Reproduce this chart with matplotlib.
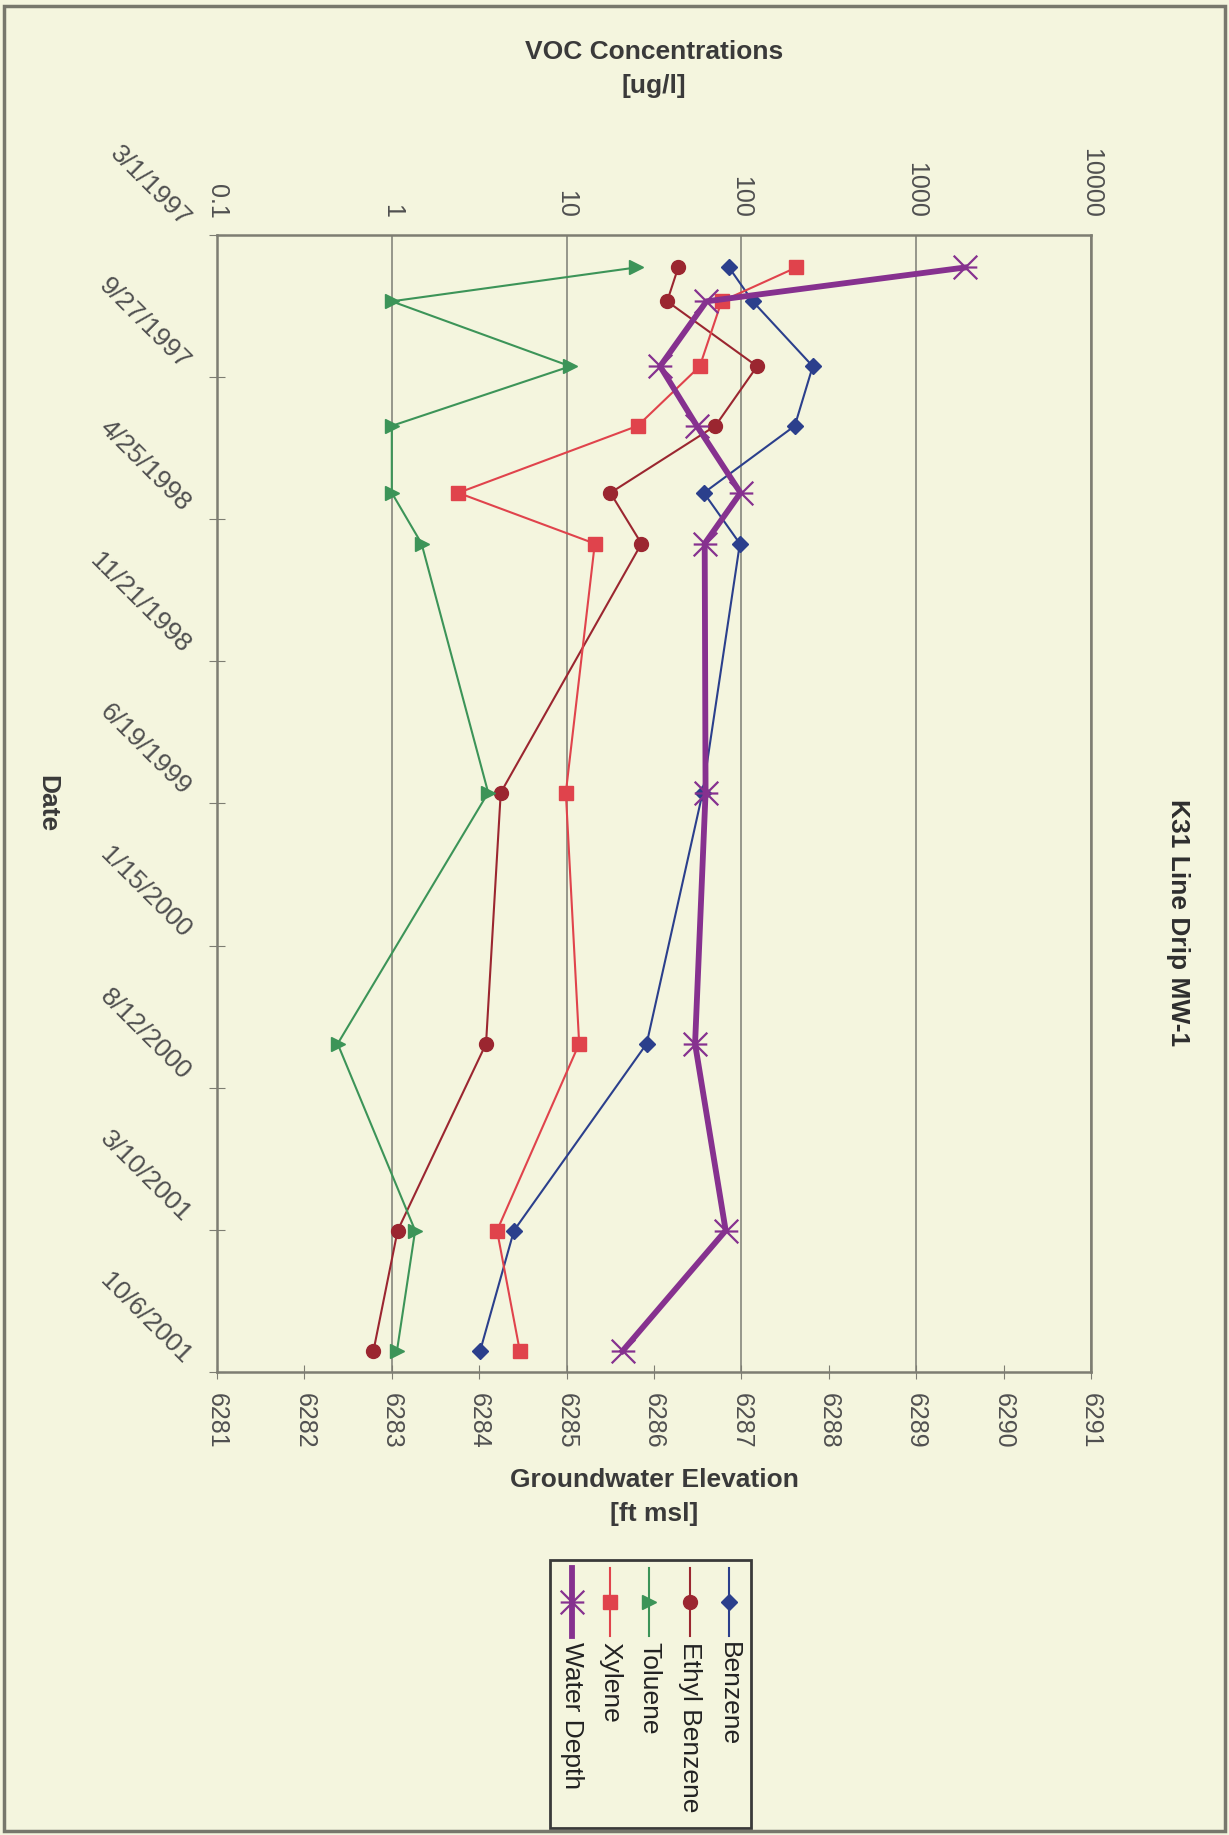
import numpy as np
import pandas as pd
import matplotlib
matplotlib.use('Agg')
import matplotlib.pyplot as plt
from matplotlib.path import Path
from matplotlib.lines import Line2D
from matplotlib.patches import Rectangle
import matplotlib.transforms as mtransforms
from matplotlib.ticker import NullLocator

plt.rcParams['font.family'] = ['Liberation Sans', 'DejaVu Sans']

# sampling dates and measured values
sample_dates = ['4/18/1997', '6/7/1997', '9/11/1997', '12/8/1997', '3/17/1998',
                '5/31/1998', '6/3/1999', '6/8/2000', '3/11/2001', '9/5/2001']
benzene = [85, 116, 256, 202, 61, 98, 60, 28.7, 5.0, 3.2]
ethyl_benzene = [43.5, 37.6, 123, 71, 17.8, 26.8, 4.2, 3.46, 1.08, 0.785]
toluene = [25, 1.0, 10.5, 1.0, 1.0, 1.48, 3.56, 0.49, 1.36, 1.07]
xylene = [206, 77, 57.8, 25.5, 2.4, 14.5, 9.9, 11.8, 4.0, 5.4]
water_elev = [6289.56, 6286.60, 6286.07, 6286.49, 6286.99, 6286.58,
              6286.59, 6286.47, 6286.82, 6285.64]

date_ticks = ['3/1/1997', '9/27/1997', '4/25/1998', '11/21/1998', '6/19/1999',
              '1/15/2000', '8/12/2000', '3/10/2001', '10/6/2001']
conc_ticks = [0.1, 1, 10, 100, 1000, 10000]
conc_labels = ['0.1', '1', '10', '100', '1000', '10000']
elev_ticks = list(range(6281, 6292))

dates = pd.to_datetime(sample_dates, format='%m/%d/%Y')
tick_dates = pd.to_datetime(date_ticks, format='%m/%d/%Y')

W, H = 1229, 1835
bg = '#f4f5de'
gray = '#7d7d72'
tick_col = '#505050'

def fx(px):
    return px / W

def fy(py):
    return 1 - py / H

# asterisk-like marker used for water depth
star = Path([(-1, -1), (1, 1), (-1, 1), (1, -1), (-1, 0), (1, 0)],
            [Path.MOVETO, Path.LINETO, Path.MOVETO, Path.LINETO, Path.MOVETO, Path.LINETO])

styles = {
    'Benzene': dict(color='#2b3f8c', marker='D', ms=8, lw=1.5),
    'Ethyl Benzene': dict(color='#9b2630', marker='o', ms=10, lw=1.5),
    'Toluene': dict(color='#3c9458', marker='>', ms=10, lw=1.5),
    'Xylene': dict(color='#e0434c', marker='s', ms=9.5, lw=1.5),
    'Water Depth': dict(color='#86318f', marker=star, ms=17, lw=4.2, mfc='none', mew=1.6),
}

fig = plt.figure(figsize=(W / 100, H / 100), dpi=100, facecolor=bg)
ax = fig.add_axes([fx(217), fy(1372), fx(1091) - fx(217), fy(235) - fy(1372)])
ax.set_facecolor(bg)
ax.set_xscale('log')
ax.set_xlim(0.1, 10000)
ax.set_ylim(tick_dates[-1], tick_dates[0])

ax2 = ax.twiny()
ax2.set_xlim(6281, 6291)

for name, vals in [('Benzene', benzene), ('Ethyl Benzene', ethyl_benzene),
                   ('Toluene', toluene), ('Xylene', xylene)]:
    ax.plot(vals, dates, **styles[name], zorder=3)
ax2.plot(water_elev, dates, **styles['Water Depth'], zorder=4)

# concentration axis on top
ax.xaxis.tick_top()
ax.xaxis.set_label_position('top')
ax.set_xticks(conc_ticks, labels=conc_labels)
ax.xaxis.set_minor_locator(NullLocator())
ax.tick_params(axis='x', which='both', length=0, pad=12, labelsize=18,
               labelcolor=tick_col, labelrotation=-90)
ax.grid(axis='x', which='major', color='#8e8e84', lw=1.3)
ax.set_axisbelow(True)
ax.set_xlabel('VOC Concentrations\n[ug/l]', fontsize=19, fontweight='bold',
              color='#3a3a3a', linespacing=1.5, va='center')
ax.xaxis.set_label_coords(0.5, 1.146)

# elevation axis on bottom
ax2.xaxis.tick_bottom()
ax2.xaxis.set_label_position('bottom')
ax2.set_xticks(elev_ticks, labels=[str(v) for v in elev_ticks])
ax2.tick_params(axis='x', direction='inout', length=10, color=gray, pad=10,
                labelsize=18, labelcolor=tick_col, labelrotation=-90)
ax2.set_xlabel('Groundwater Elevation\n[ft msl]', fontsize=19, fontweight='bold',
               color='#3a3a3a', linespacing=1.5, va='center')
ax2.xaxis.set_label_coords(0.5, -0.110)
for s in ax2.spines.values():
    s.set_visible(False)

for s in ax.spines.values():
    s.set_color(gray)
    s.set_linewidth(1.8)

# date axis
ax.set_yticks(tick_dates, labels=date_ticks)
ax.tick_params(axis='y', direction='inout', length=12, color=gray, pad=16,
               labelsize=19, labelcolor=tick_col)
offset = mtransforms.ScaledTranslation(0, 0.12, fig.dpi_scale_trans)
for lbl in ax.get_yticklabels():
    lbl.set_rotation(-45)
    lbl.set_ha('right')
    lbl.set_va('center')
    lbl.set_rotation_mode('anchor')
    lbl.set_transform(lbl.get_transform() + offset)
ax.set_ylabel('Date', fontsize=19, fontweight='bold', color='#3a3a3a',
              rotation=-90, va='center', ha='center')
ax.yaxis.set_label_coords(-0.194, 0.5)

fig.text(fx(1178), fy(923), 'K31 Line Drip MW-1', rotation=-90, ha='center',
         va='center', fontsize=19, fontweight='bold', color='#2e2e2e')

# legend, drawn rotated like the rest of the chart
leg_x = [729, 690, 649, 610, 572]
for x, name in zip(leg_x, styles):
    fig.add_artist(Line2D([fx(x)] * 3, [fy(1568), fy(1602), fy(1636)],
                          transform=fig.transFigure, markevery=[1], **styles[name]))
    fig.text(fx(x), fy(1642), name, rotation=-90, ha='center', va='top',
             fontsize=19, color='#222222')
fig.add_artist(Rectangle((fx(550), fy(1828)), fx(751) - fx(550), fy(1560) - fy(1828),
                         transform=fig.transFigure, fill=False, ec='#3a3a3a', lw=2))

# outer frame
fig.add_artist(Rectangle((fx(4), fy(1831)), fx(1225) - fx(4), fy(6) - fy(1831),
                         transform=fig.transFigure, fill=False, ec='#77776c', lw=2.5))

fig.savefig('out.png', dpi=100, facecolor=bg)
